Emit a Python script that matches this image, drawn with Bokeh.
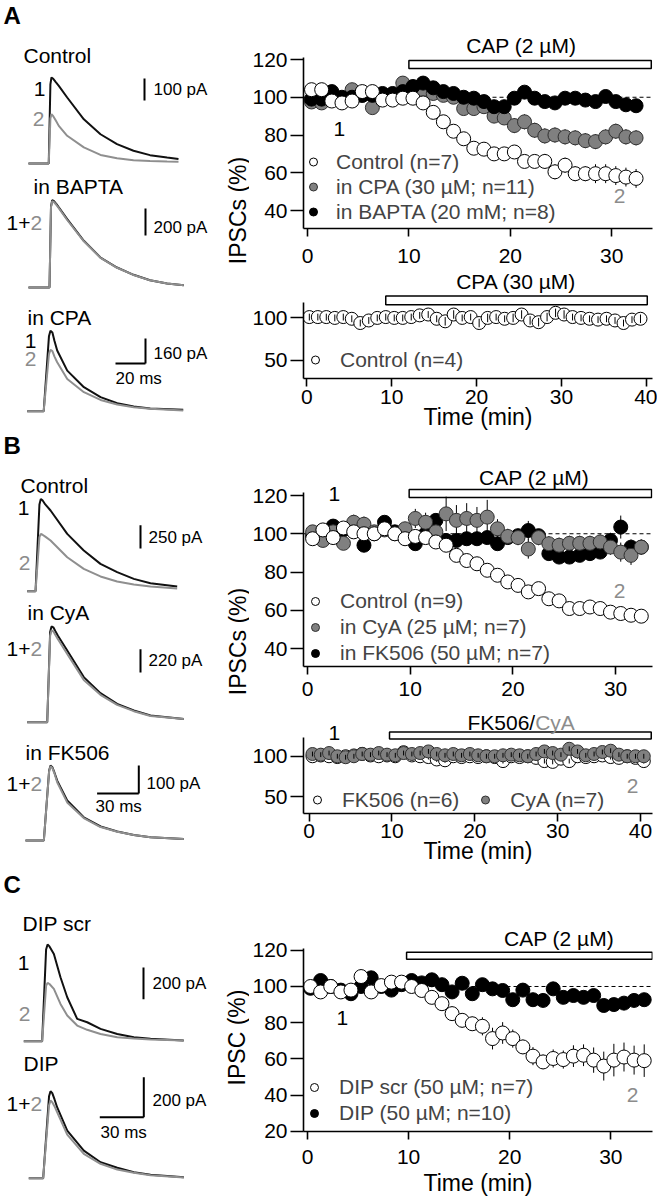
import math
from bokeh.plotting import figure
from bokeh.models import Range1d, Label, Span, Legend, LegendItem, FixedTicker
from bokeh.layouts import column, row
from bokeh.embed import file_html
from bokeh.resources import INLINE

FONT = "Liberation Sans"
GRAY_TXT = "#8c8c8c"
GRAY_LINE = "#8f8f8f"
GRAY_FILL = "#808080"

# ------------------------------------------------------------------ data
# example IPSC traces (time in ms, current in pA); "_1" = before (black), "_2" = after (gray)
A_ctrl_t = [0, 13.5, 14.6, 15.3, 16.5, 18.2, 20.2, 25.8, 36.9, 48, 59, 70, 81, 92.4, 100]
A_ctrl_1 = [0, 0, 360, 391, 385, 370, 353, 300, 201, 133, 88, 58, 38, 27, 20]
A_ctrl_2 = [0, 0, 205, 224, 215, 195, 171, 126, 73, 39, 24, 15, 11, 9, 8]
A_bapta_t = [0, 14, 15, 15.8, 17, 18.5, 20.2, 25.8, 36.9, 48, 59, 70, 81, 92.4, 103.5]
A_bapta_1 = [0, 0, 600, 647, 640, 620, 593, 506, 346, 222, 148, 94, 54, 30, 17]
A_bapta_2 = [0, 0, 595, 640, 633, 613, 588, 500, 342, 220, 146, 93, 53, 30, 17]
A_cpa_t = [0, 11, 14.5, 15.5, 16.8, 18.2, 20, 26.7, 37.8, 48.9, 60, 71, 82, 104]
A_cpa_1 = [0, 0, 480, 516, 505, 450, 389, 260, 154, 90, 51, 30, 17, 9]
A_cpa_2 = [0, 0, 365, 393, 385, 350, 314, 207, 122, 72, 43, 26, 15, 4]
B_ctrl_t = [0, 6, 8.8, 9.8, 11, 13, 16.8, 28.8, 40.7, 52.7, 64.7, 76.7, 88.7, 107.9]
B_ctrl_1 = [0, 0, 930, 989, 975, 930, 865, 614, 436, 293, 204, 132, 86, 50]
B_ctrl_2 = [0, 0, 580, 614, 605, 585, 543, 364, 239, 158, 104, 72, 50, 29]
B_cya_t = [0, 14.4, 16.5, 17.5, 18.8, 20.2, 22, 28.8, 40.7, 52.7, 64.7, 76.7, 88.7, 112.7]
B_cya_1 = [0, 0, 850, 903, 895, 860, 818, 676, 425, 274, 173, 110, 63, 31]
B_cya_2 = [0, 0, 815, 865, 857, 825, 785, 644, 399, 258, 163, 104, 59, 31]
B_fk_t = [0, 13.2, 17, 18, 19.3, 20.8, 22.8, 30, 41.9, 54, 66, 77.9, 89.9, 113.9]
B_fk_1 = [0, 0, 250, 268, 262, 243, 214, 143, 83, 50, 32, 20, 12, 5]
B_fk_2 = [0, 0, 247, 265, 259, 240, 208, 136, 80, 48, 31, 20, 12, 5]
C_scr_t = [0, 12.5, 15.2, 16.2, 17.5, 20.5, 25, 29.6, 36.4, 43.2, 52.3, 63.7, 75, 86.4, 109]
C_scr_1 = [0, 0, 580, 612, 600, 552, 405, 278, 141, 120, 78, 46, 25, 15, 4]
C_scr_2 = [0, 0, 350, 369, 362, 331, 236, 163, 99, 72, 46, 25, 17, 11, 4]
C_dip_t = [0, 9.8, 13.8, 14.8, 16, 17.5, 19.3, 26.2, 37.5, 48.9, 60.3, 71.6, 83, 105.7]
C_dip_1 = [0, 0, 410, 435, 425, 395, 355, 238, 138, 80, 52, 30, 17, 5]
C_dip_2 = [0, 0, 365, 388, 380, 360, 330, 218, 122, 72, 43, 27, 15, 3]

# scale bars
scale_pA = [100, 200, 160, 250, 220, 100, 200, 200]
scale_ms = [20, 30, 30]

# time courses (min, % of baseline IPSC)
tA = [0.4, 1.4, 2.4, 3.4, 4.4, 5.4, 6.4, 7.4, 8.4, 9.4, 10.4, 11.4, 12.4, 13.4, 14.4, 15.4,
      16.4, 17.4, 18.4, 19.4, 20.4, 21.4, 22.4, 23.4, 24.4, 25.4, 26.4, 27.4, 28.4, 29.4,
      30.4, 31.4, 32.4]
A_ctrl = [104, 104, 98, 97, 98, 103, 103, 98.5, 98.5, 99.5, 99.5, 97, 92, 87, 82, 78, 73,
          72.5, 70, 70, 71, 66, 66, 66, 60.5, 64, 59.5, 59.5, 59.5, 59.5, 58.5, 57.7, 57]
A_ctrl_err = [2, 2, 2, 2, 2, 2, 2, 2, 2, 2, 2, 2, 2, 3, 3, 3, 3, 3, 3, 3, 3, 3, 3, 4, 4, 4,
              4, 4, 5, 5, 5, 5, 5]
A_cpa = [97.5, 97, 100, 99, 104, 101, 94.5, 100, 101, 107.5, 105, 104, 102, 101, 100, 94,
         94, 95, 90, 89, 85, 87, 82.5, 79.5, 80, 79, 78.5, 77, 76.5, 79, 82, 79, 78.5]
A_cpa_err = [3, 3, 3, 3, 3, 3, 3, 3, 3, 3, 3, 3, 3, 3, 3, 3, 3, 3, 3, 3, 4, 4, 4, 4, 4, 4,
             4, 4, 4, 4, 4, 4, 4]
A_bapta = [99, 99, 103, 100, 100, 101, 101, 102, 102, 103, 105.7, 107.5, 105, 103, 102, 100,
           99.5, 97.7, 95, 95, 99.5, 102.7, 99.5, 97.7, 97, 99.5, 99.5, 98.5, 97.7, 100.4,
           97.7, 96, 95.5]
A_bapta_err = [2, 2, 2, 2, 2, 2, 2, 2, 2, 2, 3, 3, 3, 3, 3, 2, 2, 2, 3, 3, 3, 3, 3, 3, 3, 3,
               3, 3, 3, 3, 3, 3, 3]

tA2 = [0.3, 1.3, 2.3, 3.3, 4.3, 5.3, 6.3, 7.3, 8.3, 9.3, 10.3, 11.3, 12.3, 13.3, 14.3, 15.3,
       16.3, 17.3, 18.3, 19.3, 20.3, 21.3, 22.3, 23.3, 24.3, 25.3, 26.3, 27.3, 28.3, 29.3,
       30.3, 31.3, 32.3, 33.3, 34.3, 35.3, 36.3, 37.3, 38.3, 39.3]
A2_ctrl = [101, 101, 101, 100, 101, 99, 94, 97, 100, 101, 100, 100, 101, 103, 104, 99, 96,
           104, 100, 101, 94, 100, 101, 99, 100, 104, 97, 95, 101, 106, 104, 101, 100, 99,
           98, 99, 97, 94, 98, 99]
A2_ctrl_err = [4, 4, 4, 4, 4, 4, 4, 4, 4, 4, 4, 4, 4, 4, 4, 4, 5, 5, 4, 4, 5, 5, 4, 4, 5, 5,
               5, 5, 5, 5, 5, 4, 4, 4, 4, 4, 4, 4, 4, 5]

tB = [0.5, 1.5, 2.5, 3.5, 4.5, 5.5, 6.5, 7.5, 8.5, 9.5, 10.5, 11.5, 12.5, 13.5, 14.5, 15.5,
      16.5, 17.5, 18.5, 19.5, 20.5, 21.5, 22.5, 23.5, 24.5, 25.5, 26.5, 27.5, 28.5, 29.5,
      30.5, 31.5, 32.5]
B_ctrl = [97.4, 102, 98, 103, 101, 100, 100, 102.6, 100, 97.4, 98.6, 98, 95.7, 94, 88.7, 86,
          84.3, 80.9, 78.3, 74.8, 73, 69.6, 71.3, 66, 64.9, 60.9, 60.9, 61.7, 60.9, 59, 58.3,
          57.4, 56.9]
B_ctrl_err = [2, 2, 2, 2, 2, 2, 2, 2, 2, 2, 2, 2, 2, 3, 3, 3, 3, 3, 3, 3, 3, 3, 3, 3, 3, 3,
              3, 3, 3, 3, 3, 3, 3]
B_cya = [101, 96.5, 101, 95, 106, 105, 101, 102, 100, 102.6, 108, 106, 101, 110.4, 107, 108,
         107, 108.7, 102.6, 98.6, 98, 92, 98, 94.8, 94, 95, 95, 95, 95.7, 93, 90.4, 88.7, 93]
B_cya_err = [3, 3, 3, 3, 4, 4, 3, 3, 3, 3, 5, 5, 4, 9, 8, 8, 7, 9, 5, 4, 4, 5, 4, 4, 4, 4, 4,
             4, 4, 4, 5, 5, 4]
B_fk = [99, 100, 104, 102, 102, 94, 100, 106, 101, 99, 94.8, 100, 107, 96.5, 96.5, 97.4, 97.4,
        98, 94.8, 98, 99, 101.7, 99, 89.6, 87.8, 87.8, 88.7, 89.6, 90.4, 96.5, 103.5, 93, 93]
B_fk_err = [2, 2, 3, 2, 3, 3, 2, 3, 2, 2, 3, 3, 3, 3, 3, 3, 3, 3, 3, 3, 3, 5, 3, 3, 3, 3, 3,
            3, 3, 4, 6, 4, 3]

tB2 = [0.4, 1.4, 2.4, 3.4, 4.4, 5.4, 6.4, 7.4, 8.4, 9.4, 10.4, 11.4, 12.4, 13.4, 14.4, 15.4,
       16.4, 17.4, 18.4, 19.4, 20.4, 21.4, 22.4, 23.4, 24.4, 25.4, 26.4, 27.4, 28.4, 29.4,
       30.4, 31.4, 32.4, 33.4, 34.4, 35.4, 36.4, 37.4, 38.4, 39.4, 40.4]
B2_fk = [100, 101, 100, 99, 100, 101, 103, 101, 100, 101, 100, 105, 101, 100, 99, 96, 95, 100,
         99, 100, 99, 100, 99, 94, 100, 99, 100, 98, 94, 93, 97, 94, 100, 99, 100, 101, 99,
         98, 100, 98, 94]
B2_fk_err = [3, 3, 3, 3, 3, 3, 3, 3, 3, 3, 3, 3, 3, 3, 3, 3, 3, 3, 3, 3, 3, 3, 3, 3, 3, 3, 3,
             3, 3, 3, 3, 3, 3, 3, 3, 3, 3, 3, 3, 3, 3]
B2_cya = [102.8, 102, 104, 100, 98.8, 100, 102.8, 102, 104, 102, 101.2, 104, 102.8, 104, 106,
          102.8, 101.2, 102.8, 101.2, 102.8, 101.2, 100, 100, 101.2, 102, 101.2, 100, 102.8,
          106, 104, 102, 109.3, 106, 101.2, 102.8, 105.3, 106.9, 102, 100, 100, 100]
B2_cya_err = [3, 3, 3, 3, 3, 3, 3, 3, 3, 3, 3, 3, 3, 3, 3, 3, 3, 3, 3, 3, 3, 3, 3, 3, 3, 3, 3,
              3, 3, 3, 3, 3, 3, 3, 3, 3, 3, 3, 3, 3, 3]

tC = [0.3, 1.3, 2.3, 3.3, 4.3, 5.3, 6.3, 7.3, 8.3, 9.3, 10.3, 11.3, 12.3, 13.3, 14.3, 15.3,
      16.3, 17.3, 18.3, 19.3, 20.3, 21.3, 22.3, 23.3, 24.3, 25.3, 26.3, 27.3, 28.3, 29.3,
      30.3, 31.3, 32.3, 33.3]
C_scr = [100, 97, 100, 97, 98, 105.5, 97, 100.5, 102.4, 102.4, 100, 97.8, 94, 90.5, 85, 81.3,
         79.4, 78, 71.2, 74.3, 71.2, 66.6, 61.5, 58.3, 60.2, 59.6, 61.5, 62, 59.3, 56, 59.3,
         61, 59.3, 59]
C_scr_err = [2, 2, 2, 2, 2, 3, 2, 2, 2, 2, 2, 2, 3, 3, 4, 4, 4, 5, 6, 6, 5, 4, 5, 4, 5, 5, 6,
             6, 7, 8, 9, 8, 8, 9]
C_dip = [99, 103.3, 100, 98, 96, 100, 104.8, 100, 98, 101, 103.3, 102, 103.7, 101, 97, 101.8,
         96, 101, 98.7, 97.8, 92.7, 98, 92.7, 92.3, 98.7, 94, 95, 94, 95, 89.5, 90, 90.8,
         92.3, 92.7]
C_dip_err = [2, 2, 2, 2, 2, 2, 2, 2, 2, 2, 2, 2, 2, 2, 2, 2, 2, 2, 2, 2, 2, 2, 2, 2, 2, 2, 2,
             2, 2, 2, 2, 2, 2, 2]

# drug application bars (min)
bar_A_cap = [10.0, 33.9]
bar_A_cpa = [9.3, 40.1]
bar_B_cap = [9.9, 33.5]
bar_B_fkcya = [9.7, 41.3]
bar_C_cap = [9.8, 34.1]

TOTAL_H = 1198
LEFT_W = 220
TITLE_W = 29
RIGHT_X = LEFT_W + TITLE_W   # 249
RIGHT_W = 408


# ------------------------------------------------------------------ helpers
def label(p, x, y, text, size=21, color="black", align="left", bold=False, angle=0.0):
    p.add_layout(Label(x=x, y=y, text=text, text_font=FONT, text_font_size=f"{size}px",
                       text_color=color, text_align=align, text_baseline="middle",
                       text_font_style="bold" if bold else "normal", angle=angle))


class TraceFig:
    def __init__(self, top, bottom, x0, s, yb, k):
        self.x0, self.s, self.yb, self.k = x0, s, yb, k
        self.p = figure(width=LEFT_W, height=bottom - top,
                        x_range=Range1d(self.X(0), self.X(LEFT_W)),
                        y_range=Range1d(self.Y(bottom), self.Y(top)),
                        x_axis_type=None, y_axis_type=None, output_backend="svg",
                        toolbar_location=None, min_border=0)
        self.p.outline_line_color = None
        self.p.grid.visible = False

    def X(self, px):
        return (px - self.x0) / self.s

    def Y(self, py):
        return (self.yb - py) / self.k

    def traces(self, t, y1, y2):
        self.p.line(t, y1, line_color="#111111", line_width=2)
        self.p.line(t, y2, line_color=GRAY_LINE, line_width=2)

    def vbar(self, px, pybottom, amp):
        x = self.X(px)
        y0 = self.Y(pybottom)
        self.p.line([x, x], [y0, y0 + amp], line_color="black", line_width=2)

    def hbar(self, pxright, pybottom, dur):
        x1 = self.X(pxright)
        y0 = self.Y(pybottom)
        self.p.line([x1 - dur, x1], [y0, y0], line_color="black", line_width=2)

    def txt(self, px, py, text, **kw):
        label(self.p, self.X(px), self.Y(py), text, **kw)


class PlotFig:
    def __init__(self, top, bottom, ftop, fbottom, x0, sx, v0, y0, sy, xticks, yticks, ytop,
                 xstand, xtitle=None, tstand=0):
        self.x0, self.sx, self.v0, self.y0, self.sy = x0, sx, v0, y0, sy
        p = figure(width=RIGHT_W, height=bottom - top,
                   x_range=Range1d(self.X(301), self.X(652)),
                   y_range=Range1d(self.Y(fbottom), self.Y(ftop)),
                   output_backend="svg", toolbar_location=None,
                   min_border_left=301 - RIGHT_X, min_border_right=RIGHT_X + RIGHT_W - 652,
                   min_border_top=ftop - top, min_border_bottom=bottom - fbottom)
        p.outline_line_color = None
        p.grid.visible = False
        p.xaxis.ticker = FixedTicker(ticks=xticks)
        p.yaxis.ticker = FixedTicker(ticks=yticks)
        p.yaxis.bounds = (self.Y(fbottom), ytop)
        for ax in (p.xaxis[0], p.yaxis[0]):
            ax.axis_line_width = 1.6
            ax.major_tick_line_width = 1.6
            ax.major_tick_in = 0
            ax.minor_tick_line_color = None
            ax.major_label_text_font = FONT
            ax.major_label_text_font_size = "21px"
            ax.major_label_text_color = "black"
        p.yaxis.major_tick_out = 13
        p.xaxis.major_tick_out = 8
        p.yaxis.major_label_standoff = 3
        p.xaxis.major_label_standoff = xstand
        if xtitle:
            p.xaxis.axis_label = xtitle
            p.xaxis.axis_label_text_font = FONT
            p.xaxis.axis_label_text_font_size = "23px"
            p.xaxis.axis_label_text_font_style = "normal"
            p.xaxis.axis_label_text_color = "black"
            p.xaxis.axis_label_standoff = tstand
        self.p = p

    def X(self, px):
        return (px - self.x0) / self.sx

    def Y(self, py):
        return self.v0 + (self.y0 - py) / self.sy

    def txt(self, px, py, text, **kw):
        label(self.p, self.X(px), self.Y(py), text, **kw)

    def dashed100(self):
        self.p.add_layout(Span(location=100, dimension="width", line_dash="4 3",
                               line_color="black", line_width=1, level="underlay"))

    def bar(self, span, pytop, pybottom):
        self.p.quad(left=[span[0]], right=[span[1]], bottom=[self.Y(pybottom)],
                    top=[self.Y(pytop)], fill_color="white", line_color="black",
                    line_width=1.5)

    def series(self, t, v, e, kind, size=14, err_on_top=False):
        fill = {"white": "white", "gray": GRAY_FILL, "black": "black"}[kind]
        line = {"white": "black", "gray": "#303030", "black": "black"}[kind]
        lo = [a - b for a, b in zip(v, e)]
        hi = [a + b for a, b in zip(v, e)]
        if not err_on_top:
            self.p.segment(t, lo, t, hi, line_color="black", line_width=1)
        r = self.p.scatter(t, v, marker="circle", size=size, fill_color=fill,
                           line_color=line, line_width=1)
        if err_on_top:
            self.p.segment(t, lo, t, hi, line_color="black", line_width=1)
        return r

    def legend(self, items, x, y, step, standoff, orientation="vertical", spacing=0):
        lg = Legend(items=[LegendItem(label=l, renderers=[r]) for l, r in items],
                    location=(x, y), orientation=orientation, glyph_width=20,
                    glyph_height=step, label_height=step, label_width=20,
                    spacing=spacing, padding=0, margin=0, label_standoff=standoff,
                    border_line_color=None, background_fill_alpha=0,
                    label_text_font=FONT, label_text_font_size="21px")
        self.p.add_layout(lg)


# ------------------------------------------------------------------ left column (traces)
A1 = TraceFig(0, 170, 28, 1.5, 163, 0.22)
A1.traces(A_ctrl_t, A_ctrl_1, A_ctrl_2)
A1.txt(3, 15, "A", size=24, bold=True)
A1.txt(23, 55, "Control")
A1.txt(39, 88, "1", align="center")
A1.txt(38, 118, "2", align="center", color=GRAY_TXT)
A1.vbar(144, 100, scale_pA[0])
A1.txt(153, 89, "100 pA", size=17)

A2 = TraceFig(170, 295, 28, 1.5, 287, 0.135)
A2.traces(A_bapta_t, A_bapta_1, A_bapta_2)
A2.txt(33, 186, "in BAPTA")
A2.txt(30, 222, "1+", align="right")
A2.txt(30, 222, "2", color=GRAY_TXT)
A2.vbar(145, 235, scale_pA[1])
A2.txt(153, 227, "200 pA", size=17)

A3 = TraceFig(295, 428, 26.7, 1.5, 410.7, 0.156)
A3.traces(A_cpa_t, A_cpa_1, A_cpa_2)
A3.txt(27, 317, "in CPA")
A3.txt(30, 340, "1", align="center")
A3.txt(30, 358, "2", align="center", color=GRAY_TXT)
A3.vbar(145, 363, scale_pA[2])
A3.hbar(145, 363, scale_ms[0])
A3.txt(153, 353, "160 pA", size=17)
A3.txt(115, 378, "20 ms", size=17)

B1 = TraceFig(428, 597, 26.7, 1.39, 590.7, 0.0933)
B1.traces(B_ctrl_t, B_ctrl_1, B_ctrl_2)
B1.txt(3, 445, "B", size=24, bold=True)
B1.txt(20, 485, "Control")
B1.txt(23, 507, "1", align="center")
B1.txt(24, 562, "2", align="center", color=GRAY_TXT)
B1.vbar(140, 548, scale_pA[3])
B1.txt(148, 537, "250 pA", size=17)

B2 = TraceFig(597, 730, 26.7, 1.39, 721.7, 0.106)
B2.traces(B_cya_t, B_cya_1, B_cya_2)
B2.txt(27, 612, "in CyA")
B2.txt(30, 648, "1+", align="right")
B2.txt(30, 648, "2", color=GRAY_TXT)
B2.vbar(140, 672, scale_pA[4])
B2.txt(148, 660, "220 pA", size=17)

B3 = TraceFig(730, 862, 25, 1.39, 840, 0.28)
B3.traces(B_fk_t, B_fk_1, B_fk_2)
B3.txt(25, 752, "in FK506")
B3.txt(30, 783, "1+", align="right")
B3.txt(30, 783, "2", color=GRAY_TXT)
B3.vbar(138.3, 793, scale_pA[5])
B3.hbar(138.3, 793, scale_ms[1])
B3.txt(146, 783, "100 pA", size=17)
B3.txt(95, 806, "30 ms", size=17)

C1 = TraceFig(862, 1047, 23.3, 1.467, 1040.7, 0.158)
C1.traces(C_scr_t, C_scr_1, C_scr_2)
C1.txt(3, 884, "C", size=24, bold=True)
C1.txt(22, 923, "DIP scr")
C1.txt(23, 962, "1", align="center")
C1.txt(24, 1013, "2", align="center", color=GRAY_TXT)
C1.vbar(143, 998.7, scale_pA[6])
C1.txt(152, 983, "200 pA", size=17)

C2 = TraceFig(1047, TOTAL_H, 28.3, 1.467, 1177.7, 0.2)
C2.traces(C_dip_t, C_dip_1, C_dip_2)
C2.txt(23, 1063, "DIP")
C2.txt(30, 1103, "1+", align="right")
C2.txt(30, 1103, "2", color=GRAY_TXT)
C2.vbar(143.3, 1116.7, scale_pA[7])
C2.hbar(143.3, 1116.7, scale_ms[2])
C2.txt(152, 1100, "200 pA", size=17)
C2.txt(100, 1132, "30 ms", size=17)

# ------------------------------------------------------------------ y-axis titles column
T = figure(width=TITLE_W, height=TOTAL_H, x_range=Range1d(LEFT_W, RIGHT_X),
           y_range=Range1d(TOTAL_H, 0), x_axis_type=None, y_axis_type=None,
           output_backend="svg", toolbar_location=None, min_border=0)
T.outline_line_color = None
T.grid.visible = False
label(T, 237, 210, "IPSCs (%)", size=23, align="center", angle=math.pi / 2)
label(T, 237, 641, "IPSCs (%)", size=23, align="center", angle=math.pi / 2)
label(T, 236, 1037, "IPSC (%)", size=23, align="center", angle=math.pi / 2)

# ------------------------------------------------------------------ right column (time courses)
PA = PlotFig(0, 270, 30, 228, 305, 10.2, 40, 210, 1.8875, [0, 10, 20, 30],
             [40, 60, 80, 100, 120], 121, 12)
PA.dashed100()
PA.bar(bar_A_cap, 60, 68)
PA.txt(520, 45, "CAP (2 µM)", align="center")
r_cpa = PA.series(tA, A_cpa, A_cpa_err, "gray")
r_bap = PA.series(tA, A_bapta, A_bapta_err, "black")
r_ctl = PA.series(tA, A_ctrl, A_ctrl_err, "white")
PA.txt(337, 128, "1", align="center")
PA.txt(619, 195, "2", align="center", color=GRAY_TXT)
PA.legend([("Control (n=7)", r_ctl), ("in CPA (30 µM; n=11)", r_cpa),
           ("in BAPTA (20 mM; n=8)", r_bap)], 0, 4, 25, 13)

PA2 = PlotFig(270, 432, 270, 380, 304.3, 8.54, 100, 318.3, 0.867, [0, 10, 20, 30, 40],
              [50, 100], 117.6, 3, "Time (min)", -3)
PA2.bar(bar_A_cpa, 296, 305)
PA2.txt(515, 281, "CPA (30 µM)", align="center")
r_c2 = PA2.series(tA2, A2_ctrl, A2_ctrl_err, "white", size=13, err_on_top=True)
PA2.legend([("Control (n=4)", r_c2)], 2, 6, 25, 15)

PB = PlotFig(432, 705, 460, 666, 305, 10.33, 40, 648, 1.9125, [0, 10, 20, 30],
             [40, 60, 80, 100, 120], 121.5, 7)
PB.dashed100()
PB.bar(bar_B_cap, 489, 497)
PB.txt(533, 477, "CAP (2 µM)", align="center")
r_fk = PB.series(tB, B_fk, B_fk_err, "black")
r_cy = PB.series(tB, B_cya, B_cya_err, "gray")
r_bc = PB.series(tB, B_ctrl, B_ctrl_err, "white")
PB.txt(332, 493, "1", align="center")
PB.txt(619, 590, "2", align="center", color=GRAY_TXT)
PB.legend([("Control (n=9)", r_bc), ("in CyA (25 µM; n=7)", r_cy),
           ("in FK506 (50 µM; n=7)", r_fk)], 2, 0, 26, 15)

PB2 = PlotFig(705, 866, 705, 815, 306.7, 8.33, 100, 756.7, 0.82, [0, 10, 20, 30, 40],
              [50, 100], 122.8, 2, "Time (min)", -3)
PB2.bar(bar_B_fkcya, 732, 739)
PB2.txt(534, 722, "FK506/", align="right")
PB2.txt(534, 722, "CyA", color=GRAY_TXT)
r_w = PB2.series(tB2, B2_fk, B2_fk_err, "white", size=13, err_on_top=True)
r_g = PB2.series(tB2, B2_cya, B2_cya_err, "gray", size=13, err_on_top=True)
PB2.txt(332, 733, "1", align="center")
PB2.txt(632, 787, "2", align="center", color=GRAY_TXT)
PB2.legend([("FK506 (n=6)", r_w), ("CyA (n=7)", r_g)], 4, 1, 25, 15,
           orientation="horizontal", spacing=16)

PC = PlotFig(866, TOTAL_H, 910, 1132, 305, 10.17, 20, 1131.7, 1.817, [0, 10, 20, 30],
             [20, 40, 60, 80, 100, 120], 121, 10, "Time (min)", 3)
PC.dashed100()
PC.bar(bar_C_cap, 952, 959)
PC.txt(558, 938, "CAP (2 µM)", align="center")
r_dip = PC.series(tC, C_dip, C_dip_err, "black")
r_scr = PC.series(tC, C_scr, C_scr_err, "white")
PC.txt(340, 1018, "1", align="center")
PC.txt(632, 1095, "2", align="center", color=GRAY_TXT)
PC.legend([("DIP scr (50 µM; n=7)", r_scr), ("DIP (50 µM; n=10)", r_dip)], 1, 5, 26, 15)

left = column([f.p for f in (A1, A2, A3, B1, B2, B3, C1, C2)], spacing=0)
right = column([f.p for f in (PA, PA2, PB, PB2, PC)], spacing=0)
layout = row([left, T, right], spacing=0)

open("out.html", "w").write(file_html(layout, INLINE))
